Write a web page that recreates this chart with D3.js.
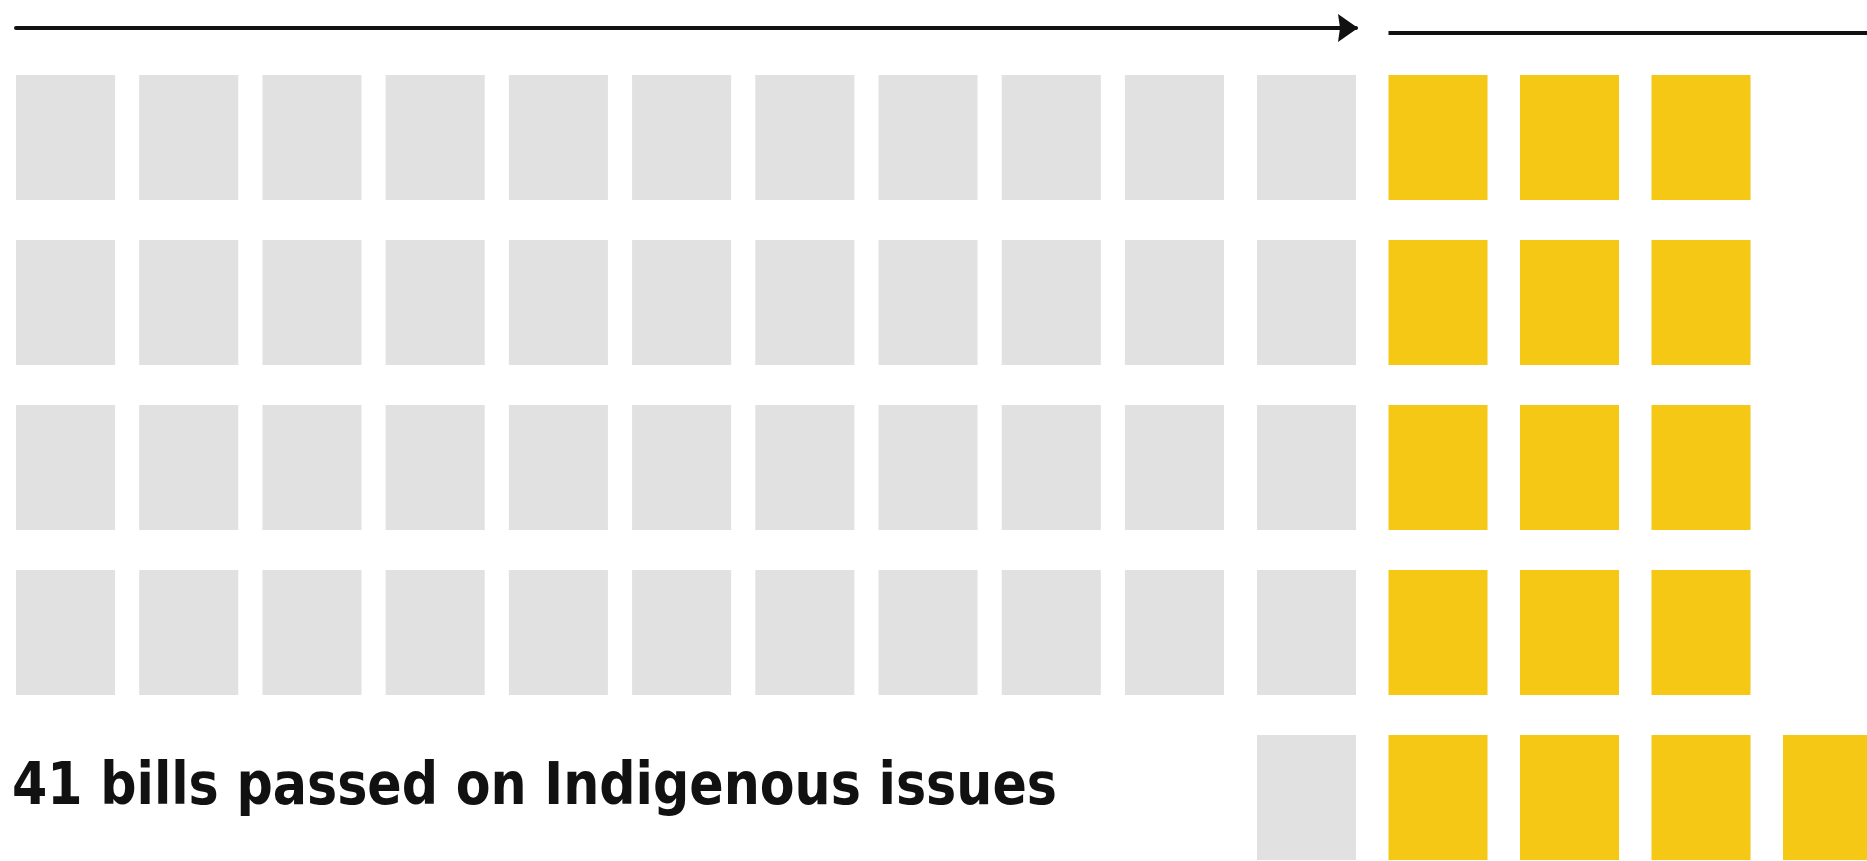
<!DOCTYPE html>
<html>
<head>
<meta charset="utf-8">
<script src="https://cdn.jsdelivr.net/npm/d3@7"></script>
<style>
  html, body { margin: 0; padding: 0; background: #fff; overflow: hidden; }
  svg { display: block; }
</style>
</head>
<body>
<svg id="chart"></svg>
<script>
// waffle rows, top to bottom
var rowIds = ["r1", "r2", "r3", "r4", "r5"];
// gray cells in the wide left block, gray cells next to the split, yellow cells after it
var grayLeft = [10, 10, 10, 10, 0];
var grayRight = [1, 1, 1, 1, 1];
var yellowCount = [3, 3, 3, 3, 4];
var leftCols = ["c1", "c2", "c3", "c4", "c5", "c6", "c7", "c8", "c9", "c10"];
var rightCols = ["c11", "c12", "c13", "c14", "c15"];
var label = "41 bills passed on Indigenous issues";

var width = 1867, height = 861;
var gray = "#e1e1e1", yellow = "#f4c814", ink = "#111";

const svg = d3.select("#chart")
    .attr("width", width)
    .attr("height", height);

var xLeft = d3.scaleBand().domain(leftCols).range([16, 1224]).paddingInner(0.196);
var xRight = d3.scaleBand().domain(rightCols).range([1257, 1882]).paddingInner(0.247);
var y = d3.scaleBand().domain(rowIds).range([75, 860]).paddingInner(0.2424);

// build the cells
var cells = [];
rowIds.forEach(function(r, i) {
    // left block is right-aligned against the split
    for (var k = 0; k < grayLeft[i]; k++) {
        cells.push({row: r, x: xLeft(leftCols[leftCols.length - grayLeft[i] + k]), w: xLeft.bandwidth(), fill: gray});
    }
    for (var k = 0; k < grayRight[i]; k++) {
        cells.push({row: r, x: xRight(rightCols[k]), w: xRight.bandwidth(), fill: gray});
    }
    for (var k = 0; k < yellowCount[i]; k++) {
        cells.push({row: r, x: xRight(rightCols[grayRight[i] + k]), w: xRight.bandwidth(), fill: yellow});
    }
});

svg.append("g")
  .selectAll("rect")
  .data(cells)
  .join("rect")
    .attr("x", d => d.x)
    .attr("y", d => y(d.row))
    .attr("width", d => d.w)
    .attr("height", y.bandwidth())
    .attr("fill", d => d.fill);

// arrowhead
svg.append("defs").append("marker")
    .attr("id", "head")
    .attr("viewBox", "0 0 20 30")
    .attr("refX", 18)
    .attr("refY", 15)
    .attr("markerWidth", 20)
    .attr("markerHeight", 30)
    .attr("markerUnits", "userSpaceOnUse")
    .attr("orient", "auto")
  .append("path")
    .attr("d", "M0,1 L20,15 L0,29 L2,15 Z")
    .attr("fill", ink);

var arrowEnd = xRight(rightCols[0]) + xRight.bandwidth();
svg.append("line")
    .attr("x1", xLeft(leftCols[0]))
    .attr("x2", arrowEnd)
    .attr("y1", 28)
    .attr("y2", 28)
    .attr("stroke", ink)
    .attr("stroke-width", 4)
    .attr("stroke-linecap", "round")
    .attr("marker-end", "url(#head)");

svg.append("line")
    .attr("x1", xRight(rightCols[1]))
    .attr("x2", width)
    .attr("y1", 33)
    .attr("y2", 33)
    .attr("stroke", ink)
    .attr("stroke-width", 4);

svg.append("text")
    .attr("x", 12)
    .attr("y", 804)
    .attr("font-family", "'Liberation Sans Narrow', 'DejaVu Sans Condensed', sans-serif")
    .attr("font-weight", "bold")
    .attr("font-size", 58)
    .attr("fill", ink)
    .attr("textLength", 1045)
    .attr("lengthAdjust", "spacingAndGlyphs")
    .text(label);
</script>
</body>
</html>
